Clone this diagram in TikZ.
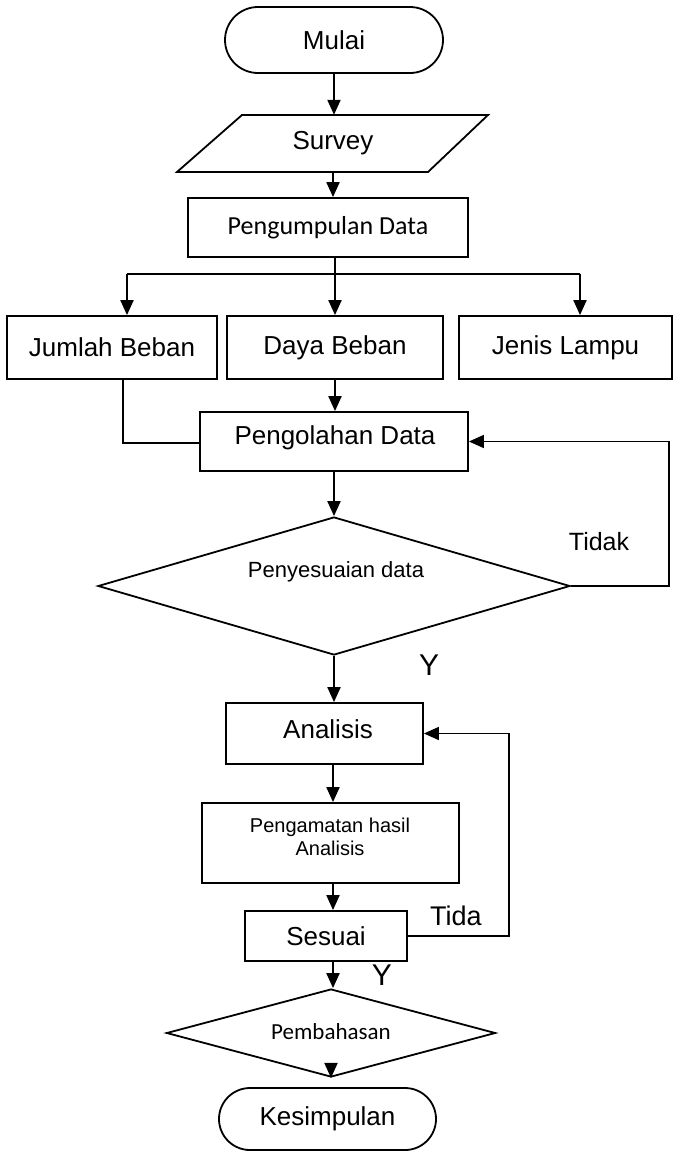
\documentclass[tikz,border=0pt]{standalone}
\usepackage{fontspec}
\setmainfont{Liberation Sans}
\newfontfamily\calfont{Carlito}
\usetikzlibrary{arrows.meta,shapes.geometric,shapes.misc,calc}
\begin{document}
\begin{tikzpicture}[x=1pt,y=-1pt,
  every node/.style={inner sep=0pt, font=\fontsize{26}{30}\selectfont},
  box/.style={draw, line width=1.8pt, rectangle},
  term/.style={draw, line width=1.8pt, rounded rectangle},
  dec/.style={draw, line width=1.8pt, diamond},
  arr/.style={line width=2pt, -{Triangle[length=15pt,width=13pt]}},
  farr/.style={line width=1.6pt, -{Triangle[length=15pt,width=13pt]}},
  ln/.style={line width=1.6pt},
  lbl/.style={font=\fontsize{27}{30}\selectfont},
  ylbl/.style={font=\fontsize{30}{32}\selectfont}]
\useasboundingbox (0,0) rectangle (679,1151);

% nodes
\node[term, minimum width=218, minimum height=66] (mulai) at (334,40) {Mulai};
\node[minimum width=250, minimum height=57] (survey) at (333,143.5) {Survey};
\draw[line width=1.8pt] (177,172) -- (242,115) -- (488,115) -- (428,172) -- cycle;
\node[box, minimum width=280, minimum height=59, font=\calfont\fontsize{26}{30}\selectfont] (peng) at (328,227.5) {Pengumpulan Data};

\node[box, minimum width=210, minimum height=63] (jumlah) at (112,347.5) {Jumlah Beban};
\node[box, minimum width=216, minimum height=63] (daya) at (335,347.5) {Daya Beban};
\node[box, minimum width=213, minimum height=63] (jenis) at (565.5,347.5) {Jenis Lampu};

\node[box, minimum width=268, minimum height=59] (olah) at (334,441.5) {};
\node (olahtext) at (335,438) {Pengolahan Data};

\node[dec, minimum width=472, minimum height=138] (penyes) at (334,586) {};
\node[font=\fontsize{22}{26}\selectfont] (penyestext) at (336,572) {Penyesuaian data};
\node[font=\fontsize{25}{30}\selectfont] (tidak) at (599,542) {Tidak};
\node[ylbl] (y1) at (429,665) {Y};

\node[box, minimum width=197, minimum height=61] (analisis) at (324.5,733.5) {};
\node (analisistext) at (328,729) {Analisis};
\node[box, minimum width=257, minimum height=80] (amat) at (330.5,843) {};
\node[font=\fontsize{20}{23}\selectfont, align=center] (amattext) at (330,836.5) {Pengamatan hasil\\Analisis};
\node[box, minimum width=162, minimum height=50] (sesuai) at (326,936) {Sesuai};
\node[lbl] (tida) at (456,916) {Tida};
\node[ylbl] (y2) at (382,975) {Y};

\node[dec, minimum width=329, minimum height=88] (pemb) at (331,1033) {};
\node[font=\calfont\fontsize{23}{26}\selectfont] (pembtext) at (331,1032) {Pembahasan};
\node[term, minimum width=217, minimum height=62] (kes) at (327.5,1119) {Kesimpulan};

% helper coordinates
\coordinate (col) at (333,0);
\coordinate (bl) at (127,274);
\coordinate (br) at (580,274);
\coordinate (bm) at (335,274);
\coordinate (jl) at (123,443);

% connectors
\draw[arr] (mulai.south) -- (mulai.south |- survey.north);
\draw[arr] (survey.south) -- (survey.south |- peng.north);
\draw[ln] (bl) -- (br);
\draw[arr] (bm |- peng.south) -- (bm |- daya.north);
\draw[arr] (bl) -- (bl |- jumlah.north);
\draw[arr] (br) -- (br |- jenis.north);
\draw[ln] (jumlah.south -| jl) -- (jl) -- (jl -| olah.west);
\draw[arr] (daya.south) -- (daya.south |- olah.north);
\draw[arr] (olah.south) -- (olah.south |- penyes.north);
\draw[farr] (penyes.east) -| ($(olah.east)+(200,0)$) -- (olah.east);
\draw[arr] (penyes.south) -- (penyes.south |- analisis.north);
\draw[arr] (analisis.south -| col) -- (amat.north -| col);
\draw[arr] (amat.south -| col) -- (sesuai.north -| col);
\draw[farr] (sesuai.east) -| ($(analisis.east)+(85,0)$) -- (analisis.east);
\draw[arr] (sesuai.south -| col) -- (pemb.north -| col);
\draw[arr] ($(pemb.south)+(0,-15)$) -- (pemb.south);
\end{tikzpicture}
\end{document}
